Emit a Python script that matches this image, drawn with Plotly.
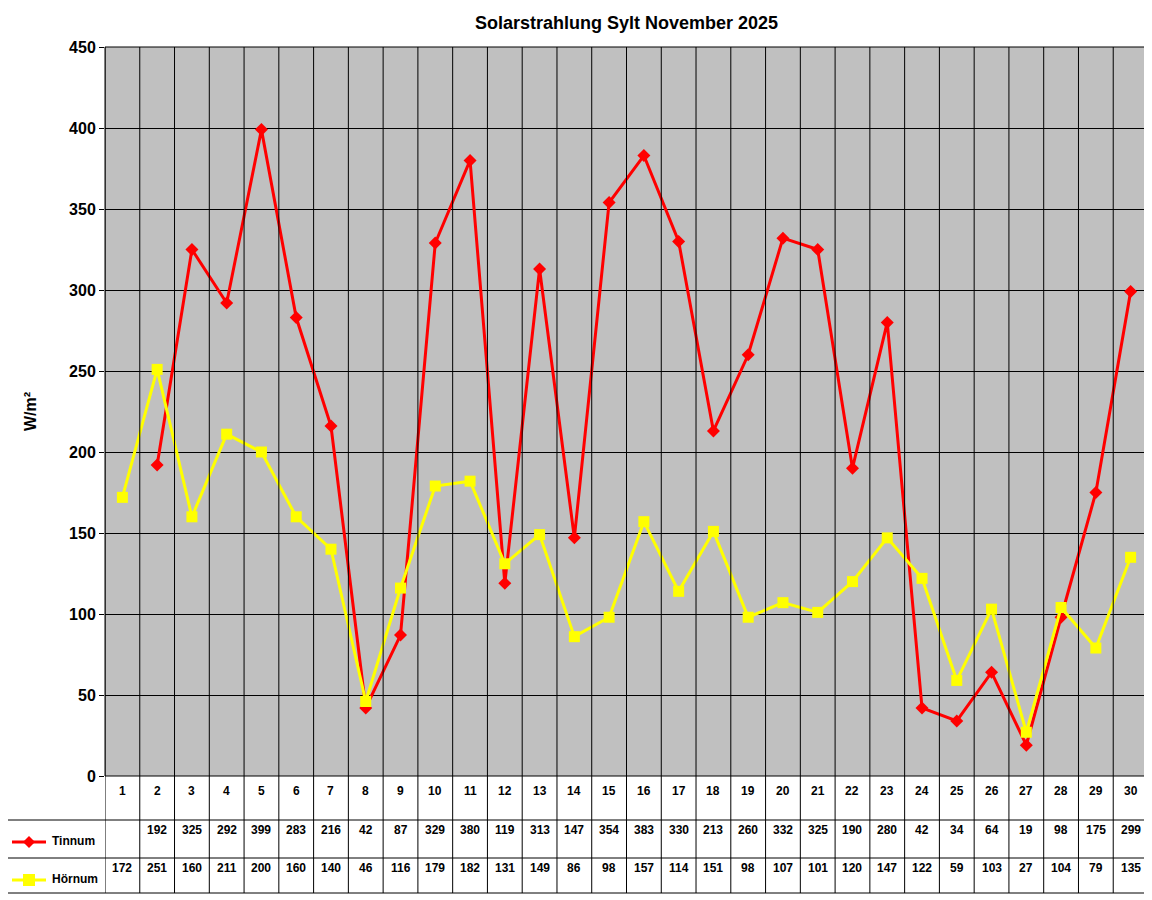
import plotly.graph_objects as go

days = list(range(1, 31))
tinnum = [None, 192, 325, 292, 399, 283, 216, 42, 87, 329, 380, 119, 313, 147, 354,
          383, 330, 213, 260, 332, 325, 190, 280, 42, 34, 64, 19, 98, 175, 299]
hoernum = [172, 251, 160, 211, 200, 160, 140, 46, 116, 179, 182, 131, 149, 86, 98,
           157, 114, 151, 98, 107, 101, 120, 147, 122, 59, 103, 27, 104, 79, 135]
series = [("Tinnum", tinnum, "#ff0000", "diamond"), ("Hörnum", hoernum, "#ffff00", "square")]

OFF = 8  # page body margin
W, H = 1152 - OFF, 900 - OFF
L, R, T = 105 - OFF, 4, 47 - OFF
B = H - (776 - OFF)
pw, ph = W - L - R, H - T - B
def px(x): return (x - OFF - L) / pw
def py(y): return (H - B - (y - OFF)) / ph

FONT = "Liberation Sans, Arial, sans-serif"
fig = go.Figure()
for name, vals, col, sym in series:
    fig.add_trace(go.Scatter(x=days, y=vals, mode="lines+markers", name=name,
                             line=dict(color=col, width=3),
                             marker=dict(symbol=sym, size=10 if sym == "diamond" else 11, color=col),
                             showlegend=False, connectgaps=False))

shapes = []
line = dict(color="black", width=1)
# vertical grid through plot and table
for i in range(0, 31):
    shapes.append(dict(type="line", xref="x", yref="paper", x0=i + 0.5, x1=i + 0.5,
                       y0=py(893), y1=1, line=line))
for yy in (820, 858, 893):
    shapes.append(dict(type="line", xref="paper", yref="paper", x0=px(5), x1=1,
                       y0=py(yy), y1=py(yy), line=line))
shapes.append(dict(type="line", xref="paper", yref="paper", x0=px(5), x1=px(5),
                   y0=py(893), y1=py(820), line=line))
shapes.append(dict(type="rect", xref="paper", yref="paper", x0=0, x1=1, y0=0, y1=1, line=line))

annotations = []
for d in days:
    annotations.append(dict(x=d, y=py(800), xref="x", yref="paper", text=f"<b>{d}</b>",
                            showarrow=False, font=dict(size=12)))
rows_y = [839, 877]
legend_y = [850, 888]
for (name, vals, col, sym), ry, ly in zip(series, rows_y, legend_y):
    for d, v in zip(days, vals):
        if v is not None:
            annotations.append(dict(x=d, y=py(ry), xref="x", yref="paper", text=f"<b>{v}</b>",
                                    showarrow=False, font=dict(size=12)))
    my = ly - 8
    shapes.append(dict(type="line", xref="paper", yref="paper", x0=px(12), x1=px(46),
                       y0=py(my), y1=py(my), line=dict(color=col, width=3)))
    if sym == "diamond":
        path = (f"M {px(23)} {py(my)} L {px(29)} {py(my - 6)} L {px(35)} {py(my)} "
                f"L {px(29)} {py(my + 6)} Z")
    else:
        path = (f"M {px(23)} {py(my - 6)} L {px(35)} {py(my - 6)} L {px(35)} {py(my + 6)} "
                f"L {px(23)} {py(my + 6)} Z")
    shapes.append(dict(type="path", xref="paper", yref="paper", path=path,
                       fillcolor=col, line=dict(color=col, width=0)))
    annotations.append(dict(x=px(50), y=py(ly), xref="paper", yref="paper", text=f"<b>{name}</b>",
                            showarrow=False, xanchor="left", font=dict(size=12)))

fig.update_layout(
    width=W, height=H, margin=dict(l=L, r=R, t=T, b=B),
    paper_bgcolor="white", plot_bgcolor="#c0c0c0",
    font=dict(family=FONT, color="black"),
    title=dict(text="<b>Solarstrahlung Sylt November 2025</b>", x=0.5, xref="paper",
               y=1 - (23 - OFF) / H, yanchor="middle", font=dict(size=18)),
    xaxis=dict(range=[0.5, 30.5], showticklabels=False, showgrid=False, zeroline=False),
    yaxis=dict(range=[0, 450], dtick=50, showgrid=True, gridcolor="black", gridwidth=1,
               zeroline=False, ticks="outside", ticklen=5, tickcolor="black",
               tickfont=dict(size=16, family=FONT), tickprefix="<b>", ticksuffix="</b>",
               title=dict(text="<b>W/m²</b>", font=dict(size=16), standoff=28)),
    shapes=shapes, annotations=annotations,
)
fig.write_html("out.html")
